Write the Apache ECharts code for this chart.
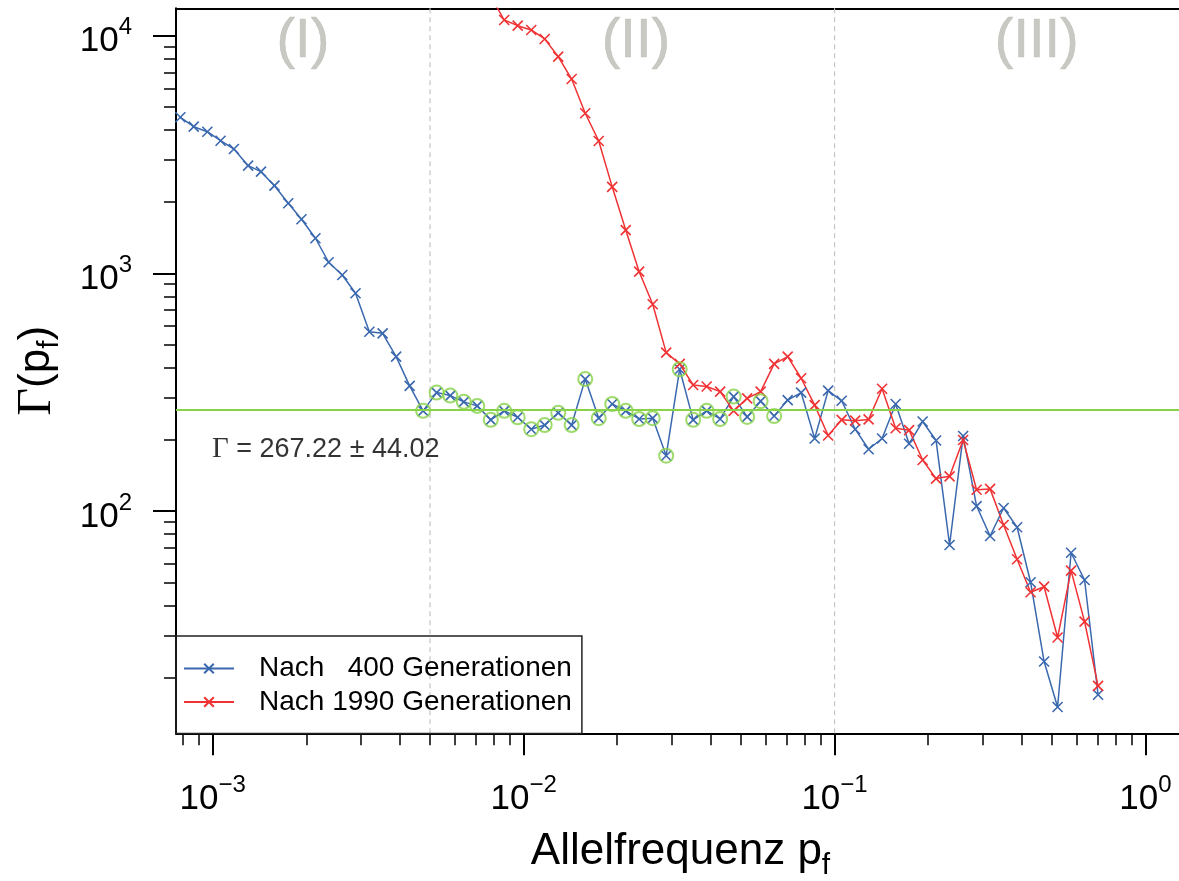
<!DOCTYPE html>
<html><head><meta charset="utf-8">
<script src="https://cdn.jsdelivr.net/npm/echarts@6/dist/echarts.min.js"></script>
<style>html,body{margin:0;padding:0;background:#fff}#c{width:1179px;height:881px}</style>
</head><body><div id="c"></div>
<script>
// ---------- data ----------
const alleleFreq = [
  0.000787, 0.000869, 0.000961, 0.00106, 0.00117, 0.00130, 0.00143, 0.00158, 0.00175, 0.00193,
  0.00214, 0.00236, 0.00261, 0.00288, 0.00319, 0.00352, 0.00389, 0.00430, 0.00475, 0.00525,
  0.00581, 0.00642, 0.00709, 0.00784, 0.00866, 0.00957, 0.01058, 0.01169, 0.01292, 0.01427,
  0.01578, 0.01744, 0.01927, 0.02130, 0.02353, 0.02601, 0.02874, 0.03176, 0.03510, 0.03879,
  0.04286, 0.04737, 0.05235, 0.05785, 0.06393, 0.07067, 0.07808, 0.08630, 0.09537, 0.1054,
  0.1165, 0.1287, 0.1422, 0.1572, 0.1737, 0.1920, 0.2121, 0.2344, 0.2591, 0.2863,
  0.3164, 0.3497, 0.3865, 0.4271, 0.4720, 0.5216, 0.5764, 0.6370, 0.7039
];
const gammaAfter400 = [
  4530, 4136, 3940, 3611, 3332, 2835, 2675, 2336, 1970, 1687,
  1404, 1113, 984, 824, 568, 559, 446, 336, 264, 315,
  306, 288, 277, 242, 264, 248, 221, 230, 259, 230,
  359, 246, 282, 264, 244, 246, 171, 395, 242, 264,
  244, 303, 249, 290, 251, 293, 315, 202, 321, 291,
  221, 182, 202, 282, 192, 238, 198, 72.0, 207, 105,
  78.6, 103, 85.5, 50.2, 23.3, 15.0, 66.8, 51.3, 16.9
];
const gammaAfter1990 = [
  null, null, null, null, null, null, null, null, null, null,
  null, null, null, null, null, null, null, null, null, null,
  null, null, null, 14600, 11620, 11000, 10550, 9670, 8150, 6560,
  4710, 3600, 2310, 1520, 1016, 741, 464, 416, 339, 334,
  318, 264, 298, 318, 416, 446, 362, 279, 208, 242,
  240, 243, 327, 223, 219, 164, 137, 140, 199, 123,
  124, 87.4, 62.7, 45.6, 48.1, 29.4, 56.2, 34.3, 18.4
];
const seriesNames = ['Nach   400 Generationen', 'Nach 1990 Generationen'];
const fitMean = 267.22;
const fitError = 44.02;
const fitFirstIndex = 18;
const fitLastIndex = 44;
const regionBounds = [0.005, 0.1];
const regionLabels = ['(I)', '(II)', '(III)'];
const regionLabelAnchors = [[0.00195, 9400], [0.02297, 9400], [0.447, 9400]];
const fitLabelAnchor = [0.00231, 181];
const xMajorTicks = [0.001, 0.01, 0.1, 1];
const xMinorTicks = [0.0008, 0.0009, 0.002, 0.003, 0.004, 0.005, 0.006, 0.007, 0.008, 0.009,
  0.02, 0.03, 0.04, 0.05, 0.06, 0.07, 0.08, 0.09, 0.2, 0.3, 0.4, 0.5, 0.6, 0.7, 0.8, 0.9];
const yMajorTicks = [100, 1000, 10000];
const yMinorTicks = [20, 30, 40, 50, 60, 70, 80, 90, 200, 300, 400, 500, 600, 700, 800, 900,
  2000, 3000, 4000, 5000, 6000, 7000, 8000, 9000];

// ---------- styling ----------
const FONT = 'Liberation Sans';
const BLUE = '#3a68ae';
const RED = '#f03234';
const GREEN = '#88d24a';
const REGION_GREY = '#bcbcb4';
const X_MIN = 7.62e-4, X_MAX = 1.34, Y_MIN = 11.63, Y_MAX = 13014;
const CROSS = 'path://M0,0L10,10M0,10L10,0';

function powLabel(v) {
  const e = Math.round(Math.log10(v));
  return '{b|10}{s|' + (e < 0 ? '\u2212' + (-e) : String(e)) + '}';
}
const powRich = {
  b: { fontSize: 35, lineHeight: 52, fontFamily: FONT, color: '#000' },
  s: { fontSize: 24, lineHeight: 24, verticalAlign: 'top', fontFamily: FONT, color: '#000' }
};

const blueData = alleleFreq.map((x, i) => [x, gammaAfter400[i]]);
const redData = alleleFreq.map((x, i) => [x, gammaAfter1990[i]]).filter(d => d[1] != null);
const fitData = blueData.slice(fitFirstIndex, fitLastIndex + 1);

const chart = echarts.init(document.getElementById('c'), null, { renderer: 'canvas' });
const axisLineStyle = { color: '#000', width: 2 };

const boundarySeries = regionBounds.map((b, k) => ({
  name: 'bound' + k, type: 'line', silent: true, symbol: 'none', z: 1,
  data: [[b, Y_MIN], [b, Y_MAX]],
  lineStyle: { color: '#c4c4c4', type: [5, 4], width: 1.2 },
  emphasis: { disabled: true }
}));

chart.setOption({
  animation: false,
  backgroundColor: '#fff',
  textStyle: { fontFamily: FONT },
  grid: { left: 176, top: 8.3, right: -6, bottom: 147.7, containLabel: false, outerBoundsMode: 'none' },
  legend: {
    data: seriesNames,
    orient: 'vertical',
    left: 176, top: 636,
    itemWidth: 50, itemHeight: 12, itemGap: 0.5,
    padding: [16, 10, 15, 7],
    borderColor: '#222', borderWidth: 1.5,
    selectedMode: false,
    textStyle: { fontSize: 28, lineHeight: 33, color: '#000', fontFamily: FONT, padding: [0, 0, 0, 20] }
  },
  xAxis: [
    {
      type: 'log', logBase: 10, position: 'bottom', min: X_MIN, max: X_MAX,
      axisLine: { show: true, onZero: false, lineStyle: axisLineStyle },
      axisTick: { show: true, customValues: xMajorTicks, length: 22, lineStyle: { color: '#000', width: 2 } },
      axisLabel: { show: true, customValues: xMajorTicks, formatter: powLabel, margin: 40, rich: powRich },
      splitLine: { show: false }, minorTick: { show: false },
      name: '{a|Allelfrequenz p}{s|f}', nameLocation: 'middle', nameGap: 91,
      nameTextStyle: { rich: {
        a: { fontSize: 44, lineHeight: 56, fontFamily: FONT, color: '#000' },
        s: { fontSize: 30, lineHeight: 30, verticalAlign: 'bottom', fontFamily: FONT, color: '#000' }
      } }
    },
    {
      type: 'log', logBase: 10, position: 'bottom', min: X_MIN, max: X_MAX,
      axisLine: { show: false, onZero: false },
      axisTick: { show: true, customValues: xMinorTicks, length: 12, lineStyle: { color: '#000', width: 1.5 } },
      axisLabel: { show: false }, splitLine: { show: false }
    },
    {
      type: 'log', logBase: 10, position: 'top', min: X_MIN, max: X_MAX,
      axisLine: { show: true, onZero: false, lineStyle: axisLineStyle },
      axisTick: { show: false }, axisLabel: { show: false }, splitLine: { show: false }
    }
  ],
  yAxis: [
    {
      type: 'log', logBase: 10, position: 'left', min: Y_MIN, max: Y_MAX,
      axisLine: { show: true, onZero: false, lineStyle: axisLineStyle },
      axisTick: { show: true, customValues: yMajorTicks, length: 23, lineStyle: { color: '#000', width: 2 } },
      axisLabel: { show: true, customValues: yMajorTicks, formatter: powLabel, margin: 44, padding: [12, 0, 0, 0], rich: powRich },
      splitLine: { show: false }, minorTick: { show: false },
      name: '{g|\u0393}{a|(p}{s|f}{a|)}', nameLocation: 'middle', nameRotate: 90, nameGap: 111,
      nameTextStyle: { rich: {
        g: { fontSize: 48, lineHeight: 56, fontFamily: 'Liberation Serif', color: '#000' },
        a: { fontSize: 44, lineHeight: 56, fontFamily: FONT, color: '#000' },
        s: { fontSize: 30, lineHeight: 30, verticalAlign: 'bottom', fontFamily: FONT, color: '#000' }
      } }
    },
    {
      type: 'log', logBase: 10, position: 'left', min: Y_MIN, max: Y_MAX,
      axisLine: { show: false, onZero: false },
      axisTick: { show: true, customValues: yMinorTicks, length: 12, lineStyle: { color: '#000', width: 1.5 } },
      axisLabel: { show: false }, splitLine: { show: false }
    }
  ],
  series: boundarySeries.concat([
    {
      name: seriesNames[0], type: 'line', data: blueData, color: BLUE, z: 3,
      symbol: CROSS, symbolSize: 10,
      lineStyle: { color: BLUE, width: 1.5 },
      itemStyle: { color: BLUE, borderColor: BLUE, borderWidth: 1.6 },
      emphasis: { disabled: true }
    },
    {
      name: seriesNames[1], type: 'line', data: redData, color: RED, z: 3,
      symbol: CROSS, symbolSize: 10,
      lineStyle: { color: RED, width: 1.5 },
      itemStyle: { color: RED, borderColor: RED, borderWidth: 1.6 },
      emphasis: { disabled: true }
    },
    {
      name: 'fit', type: 'scatter', data: fitData, symbol: 'circle', symbolSize: 14, z: 4,
      itemStyle: { color: 'rgba(0,0,0,0)', borderColor: GREEN, borderWidth: 2 },
      silent: true,
      markLine: {
        silent: true, symbol: ['none', 'none'], label: { show: false },
        lineStyle: { color: GREEN, type: 'solid', width: 2 },
        data: [{ yAxis: fitMean }]
      }
    },
    {
      name: 'regionLabels', type: 'scatter', silent: true, symbolSize: 1, z: 5,
      itemStyle: { color: 'rgba(0,0,0,0)' },
      data: regionLabelAnchors.map((c, i) => ({ value: c, name: regionLabels[i] })),
      label: {
        show: true, position: 'inside', formatter: '{b}', fontSize: 56,
        color: REGION_GREY, fontFamily: FONT, textBorderColor: REGION_GREY, textBorderWidth: 0.6
      }
    },
    {
      name: 'fitLabel', type: 'scatter', silent: true, symbolSize: 1, z: 5,
      itemStyle: { color: 'rgba(0,0,0,0)' },
      data: [{ value: fitLabelAnchor, name: 'fit' }],
      label: {
        show: true, position: 'inside', color: '#000', textBorderWidth: 0,
        formatter: '{g|\u0393}{t| = ' + fitMean.toFixed(2) + ' \u00b1 ' + fitError.toFixed(2) + '}',
        rich: {
          g: { fontSize: 29, fontFamily: 'Liberation Serif', color: '#000', textBorderWidth: 0 },
          t: { fontSize: 27, fontFamily: FONT, color: '#000', textBorderWidth: 0 }
        }
      }
    }
  ])
});
</script>
</body></html>
